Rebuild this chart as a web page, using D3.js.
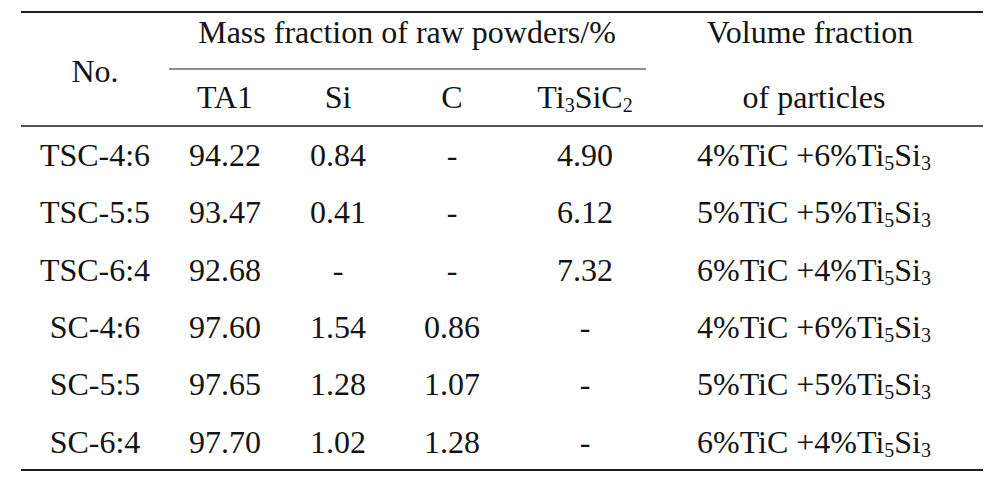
<!DOCTYPE html>
<html>
<head>
<meta charset="utf-8">
<script src="https://cdn.jsdelivr.net/npm/d3@7"></script>
<style>
    body { margin: 0; background: #fff; }
    svg text { font-family: "Liberation Serif", "Times New Roman", serif; fill: #141414; }
</style>
</head>
<body>
<div id="table"></div>
<script>
// table values
var sampleIds = ["TSC-4:6", "TSC-5:5", "TSC-6:4", "SC-4:6", "SC-5:5", "SC-6:4"];
var ta1 = ["94.22", "93.47", "92.68", "97.60", "97.65", "97.70"];
var si = ["0.84", "0.41", "-", "1.54", "1.28", "1.02"];
var carbon = ["-", "-", "-", "0.86", "1.07", "1.28"];
var ti3sic2 = ["4.90", "6.12", "7.32", "-", "-", "-"];
var ticPct = [4, 5, 6, 4, 5, 6];
var ti5si3Pct = [6, 5, 4, 6, 5, 4];

var columns = ["no", "ta1", "si", "c", "ti3sic2", "particles"];

var width = 1003, height = 486;
var fontSize = 32;

var svg = d3.select("#table").append("svg")
    .attr("width", width)
    .attr("height", height);

// column centres and row baselines
var x = d3.scaleOrdinal()
    .domain(columns)
    .range([95, 225, 338, 452, 585, 814]);

var y = d3.scalePoint()
    .domain(sampleIds)
    .range([166, 452.5]);

// rules
function rule(y0, x0, x1, w) {
    svg.append("line")
        .attr("x1", x0).attr("x2", x1)
        .attr("y1", y0).attr("y2", y0)
        .attr("stroke", "#1e1e1e")
        .attr("stroke-width", w);
}
rule(12, 21, 983, 2.2);
rule(69, 169, 646, 1.2);
rule(126, 21, 983, 1.4);
rule(470, 21, 983, 2.2);

function label(cx, by, txt) {
    return svg.append("text")
        .attr("x", cx)
        .attr("y", by)
        .attr("text-anchor", "middle")
        .attr("font-family", "Liberation Serif")
        .style("font-size", fontSize + "px")
        .text(txt);
}

// header
label(x("no"), 82, "No.");
label(407, 43, "Mass fraction of raw powders/%");
label(x("particles") - 4, 43, "Volume fraction");
label(x("particles"), 108, "of particles");
label(x("ta1"), 108, "TA1");
label(x("si"), 108, "Si");
label(x("c"), 108, "C");

// formula text with subscripts: parts = [[text, isSub], ...]
function formula(cx, by, parts) {
    var t = svg.append("text")
        .attr("x", cx)
        .attr("y", by)
        .attr("text-anchor", "middle")
        .attr("font-family", "Liberation Serif")
        .style("font-size", fontSize + "px");
    var shifted = false;
    parts.forEach(function (p) {
        var s = t.append("tspan").text(p[0]);
        if (p[1]) {
            s.attr("dy", 4).style("font-size", "20px");
            shifted = true;
        } else if (shifted) {
            s.attr("dy", -4);
            shifted = false;
        }
    });
    return t;
}

formula(x("ti3sic2"), 108, [["Ti", 0], ["3", 1], ["SiC", 0], ["2", 1]]);

// body rows
sampleIds.forEach(function (id, i) {
    var by = y(id);
    label(x("no"), by, id);
    label(x("ta1"), by, ta1[i]);
    label(x("si"), by, si[i]);
    label(x("c"), by, carbon[i]);
    label(x("ti3sic2"), by, ti3sic2[i]);
    formula(x("particles"), by, [
        [ticPct[i] + "%TiC +" + ti5si3Pct[i] + "%Ti", 0], ["5", 1], ["Si", 0], ["3", 1]
    ]);
});
</script>
</body>
</html>
